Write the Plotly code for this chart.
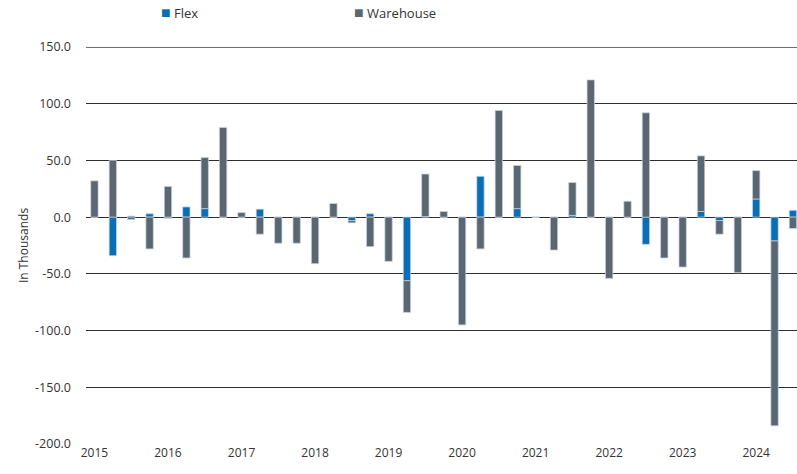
import plotly.graph_objects as go

quarters = [f"{y}Q{q}" for y in range(2015, 2025) for q in range(1, 5)][:39]
flex = [0, -34, 1, 3, -1, 9, 7.5, 0,
        0, 7, 0, 0, 0, 0, -3, 3,
        0, -56, 0.5, 0, 0, 36, 0, 7.5,
        0, 0, 1.5, 0, 0, 0, -24, 0,
        0, 5, -3, 0, 16, -21, 6]
warehouse = [32, 50, -2, -28, 27, -36, 45, 79,
             4, -15, -23, -23, -41, 12, -2, -26,
             -39, -28, 37.5, 5, -95, -28, 94, 38,
             0, -29, 29, 121, -54, 14, 92, -36,
             -44, 49, -12, -49, 25, -163, -10]
year_ticks = [str(y) for y in range(2015, 2025)]
y_ticks = list(range(-200, 151, 50))
y_tick_text = [f"{v:.1f}" for v in y_ticks]

FLEX_COLOR = "#0a6eb4"
WH_COLOR = "#5b6770"

W, H = 797, 474
ML, MT, MB, MR = 86, 47, 30, 0
PW, PH = W - ML - MR, H - MT - MB

x = list(range(len(quarters)))

fig = go.Figure()
fig.add_trace(go.Bar(x=x, y=flex, name="Flex", marker_color=FLEX_COLOR,
                     marker_line=dict(color="rgba(200,215,230,0.9)", width=0.8),
                     customdata=quarters))
fig.add_trace(go.Bar(x=x, y=warehouse, name="Warehouse", marker_color=WH_COLOR,
                     marker_line=dict(color="rgba(200,210,220,0.9)", width=0.8),
                     customdata=quarters))

legend_items = [("Flex", FLEX_COLOR, 159, 12), ("Warehouse", WH_COLOR, 352, 12)]
for name, col, ax_px, ay_px in legend_items:
    fig.add_annotation(x=(ax_px - ML) / PW, y=(H - MB - ay_px) / PH,
                       xref="paper", yref="paper",
                       text=f"<span style='color:{col};font-size:16px'>■</span> {name}",
                       showarrow=False, xanchor="left", yanchor="middle",
                       font=dict(size=13, color="#333333"))

# top gridline is drawn lighter and heavier in the reference
fig.add_shape(type="line", xref="paper", x0=0, x1=1, yref="y", y0=150, y1=150,
              line=dict(color="#6e6e6e", width=2), layer="below")

fig.update_layout(
    width=W, height=H,
    barmode="relative", bargap=0.6,
    plot_bgcolor="white", paper_bgcolor="white",
    font=dict(family="Open Sans", size=12, color="#333333"),
    margin=dict(l=ML, r=MR, t=MT, b=MB, autoexpand=False),
    showlegend=False,
    xaxis=dict(range=[-0.46, 38.22], tickvals=list(range(0, 40, 4)), ticktext=year_ticks,
               showgrid=False, zeroline=False, showline=False, ticks="", automargin=False,
               tickfont=dict(size=12, color="#333333")),
    yaxis=dict(range=[-200, 150], tickvals=y_ticks, ticktext=y_tick_text,
               showgrid=True, gridcolor="#2e2e2e", gridwidth=1.4,
               zeroline=True, zerolinecolor="#2e2e2e", zerolinewidth=1.4,
               ticks="", ticklabelstandoff=14, automargin=False,
               title=dict(text="In Thousands", font=dict(size=12, color="#333333"), standoff=3),
               tickfont=dict(size=12.5, color="#333333")),
)

fig.write_html("out.html", config={"displayModeBar": False},
               post_script="document.body.style.margin='0';"
                           "document.documentElement.style.overflow='hidden';")
